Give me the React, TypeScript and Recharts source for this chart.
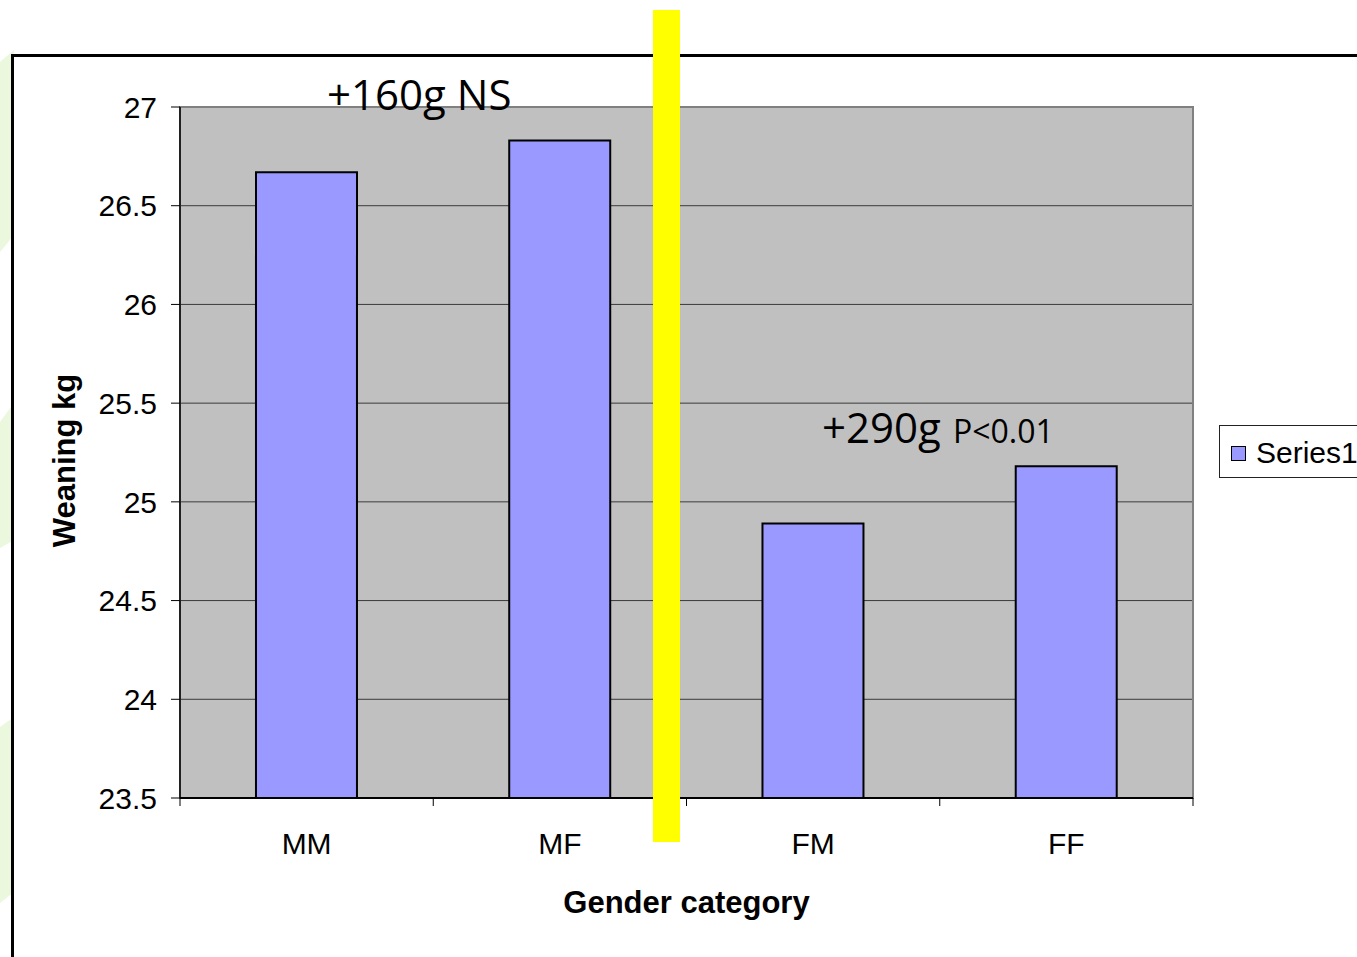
import React from 'react';
import { BarChart, Bar, XAxis, YAxis, CartesianGrid, Legend, ReferenceArea, Label } from 'recharts';

// Weaning weight by gender category
const categories = ['MM', 'MF', 'FM', 'FF'];
const weaningKg = [26.67, 26.83, 24.89, 25.18];
const yTicks = [23.5, 24, 24.5, 25, 25.5, 26, 26.5, 27];
const seriesName = 'Series1';
const xTitle = 'Gender category';
const yTitle = 'Weaning kg';
const pValueNote = 'P<0.01';
const nsNote = 'NS';

const data = categories.map((c, i) => ({ category: c, value: weaningKg[i] }));

// difference in grams between the paired groups
const gainLabel = (a: number, b: number) => `+${Math.round((b - a) * 1000)}g`;

const W = 1357;
const H = 957;
const FONT = '"Liberation Sans", Arial, sans-serif';
const NOTE_FONT = '"Open Sans", sans-serif';
const X_TICK_GAP = 34;
const X_TICK_LEN = 8;

function CategoryTick(props: any) {
  const { x, y, payload, index } = props;
  const half = payload && typeof payload.offset === 'number' ? payload.offset : 0;
  const axisY = y - X_TICK_GAP;
  const isLast = index === categories.length - 1;
  return (
    <g>
      <line x1={x - half} x2={x - half} y1={axisY} y2={axisY + X_TICK_LEN} stroke="#000" strokeWidth={1} />
      {isLast && (
        <line x1={x + half} x2={x + half} y1={axisY} y2={axisY + X_TICK_LEN} stroke="#000" strokeWidth={1} />
      )}
      <text x={x} y={y + 22} textAnchor="middle" fill="#000" fontSize={30} fontFamily={FONT}>
        {payload.value}
      </text>
    </g>
  );
}

function XTitle(props: any) {
  const vb = props.viewBox || {};
  return (
    <text
      x={vb.x + vb.width / 2}
      y={vb.y + 115}
      textAnchor="middle"
      fill="#000"
      fontSize={31}
      fontWeight="bold"
      fontFamily={FONT}
    >
      {xTitle}
    </text>
  );
}

function YTitle(props: any) {
  const vb = props.viewBox || {};
  const cx = vb.x + 75;
  const cy = vb.y + vb.height / 2 + 8;
  return (
    <text
      x={cx}
      y={cy}
      transform={`rotate(-90 ${cx} ${cy})`}
      textAnchor="middle"
      fill="#000"
      fontSize={31}
      fontWeight="bold"
      fontFamily={FONT}
    >
      {yTitle}
    </text>
  );
}

function LegendBox(props: any) {
  const item = props.payload && props.payload[0];
  const label = item ? item.value : seriesName;
  return (
    <div
      style={{
        position: 'relative',
        width: 150,
        height: 53,
        boxSizing: 'border-box',
        border: '1px solid #222',
        background: '#fff',
        fontFamily: FONT,
      }}
    >
      <div
        style={{
          position: 'absolute',
          left: 11,
          top: 20,
          width: 15,
          height: 15,
          boxSizing: 'border-box',
          background: '#9999FF',
          border: '1.5px solid #000',
        }}
      />
      <div
        style={{
          position: 'absolute',
          left: 36,
          top: 9,
          fontSize: 30,
          lineHeight: '36px',
          color: '#000',
          whiteSpace: 'nowrap',
        }}
      >
        {label}
      </div>
    </div>
  );
}

export default function App() {
  return (
    <div style={{ position: 'relative', width: W, height: H, overflow: 'hidden', background: '#fff' }}>
      <style>{`body{margin:0;}`}</style>
      {/* slide backdrop: green edge shapes and frame lines */}
      <svg width={W} height={H} style={{ position: 'absolute', left: 0, top: 0 }}>
        <polygon points="0,62 14,50 14,235 0,252" fill="#EBF8DE" />
        <polygon points="0,422 14,403 14,540 0,548" fill="#EBF8DE" />
        <polygon points="0,727 14,717 14,892 0,903" fill="#EBF8DE" />
        <rect x={11} y={54} width={W - 11} height={3} fill="#000" />
        <rect x={11} y={54} width={3} height={H - 54} fill="#000" />
      </svg>

      <div style={{ position: 'absolute', left: 0, top: 0 }}>
        <BarChart
          width={W}
          height={H}
          data={data}
          margin={{ top: 107, right: 164, bottom: 0, left: 0 }}
          barCategoryGap="30%"
        >
          <CartesianGrid vertical={false} stroke="#3a3a3a" strokeWidth={1} fill="#C0C0C0" fillOpacity={1} />
          <ReferenceArea y1={23.5} y2={27} fill="none" stroke="#808080" strokeWidth={2} ifOverflow="visible" />
          <XAxis
            dataKey="category"
            height={159}
            interval={0}
            tickLine={false}
            tickSize={0}
            tickMargin={X_TICK_GAP}
            axisLine={{ stroke: '#000', strokeWidth: 2 }}
            tick={<CategoryTick />}
          >
            <Label content={<XTitle />} />
          </XAxis>
          <YAxis
            type="number"
            domain={[23.5, 27]}
            ticks={yTicks}
            interval={0}
            allowDataOverflow
            width={180}
            tickSize={9}
            tickMargin={14}
            axisLine={{ stroke: '#000', strokeWidth: 1.5 }}
            tickLine={{ stroke: '#000', strokeWidth: 1 }}
            tick={{ fill: '#000', fontSize: 30, fontFamily: FONT }}
          >
            <Label content={<YTitle />} />
          </YAxis>
          <Legend
            layout="vertical"
            align="center"
            verticalAlign="middle"
            wrapperStyle={{ left: 1219, top: 425, width: 150 }}
            content={<LegendBox />}
          />
          <Bar
            dataKey="value"
            name={seriesName}
            fill="#9999FF"
            stroke="#000"
            strokeWidth={2}
            isAnimationActive={false}
          />
        </BarChart>
      </div>

      {/* slide annotations on top of the chart */}
      <svg width={W} height={H} style={{ position: 'absolute', left: 0, top: 0, pointerEvents: 'none' }}>
        <text x={327} y={110} fontFamily={NOTE_FONT} fontSize={42} fill="#000">
          {`${gainLabel(weaningKg[0], weaningKg[1])} ${nsNote}`}
        </text>
        <text x={822} y={443} fontFamily={NOTE_FONT} fill="#000">
          <tspan fontSize={42}>{gainLabel(weaningKg[2], weaningKg[3])}</tspan>
          <tspan x={953} fontSize={32}>{pValueNote}</tspan>
        </text>
        <rect x={653} y={10} width={27} height={832} fill="#FFFF00" />
      </svg>
    </div>
  );
}
